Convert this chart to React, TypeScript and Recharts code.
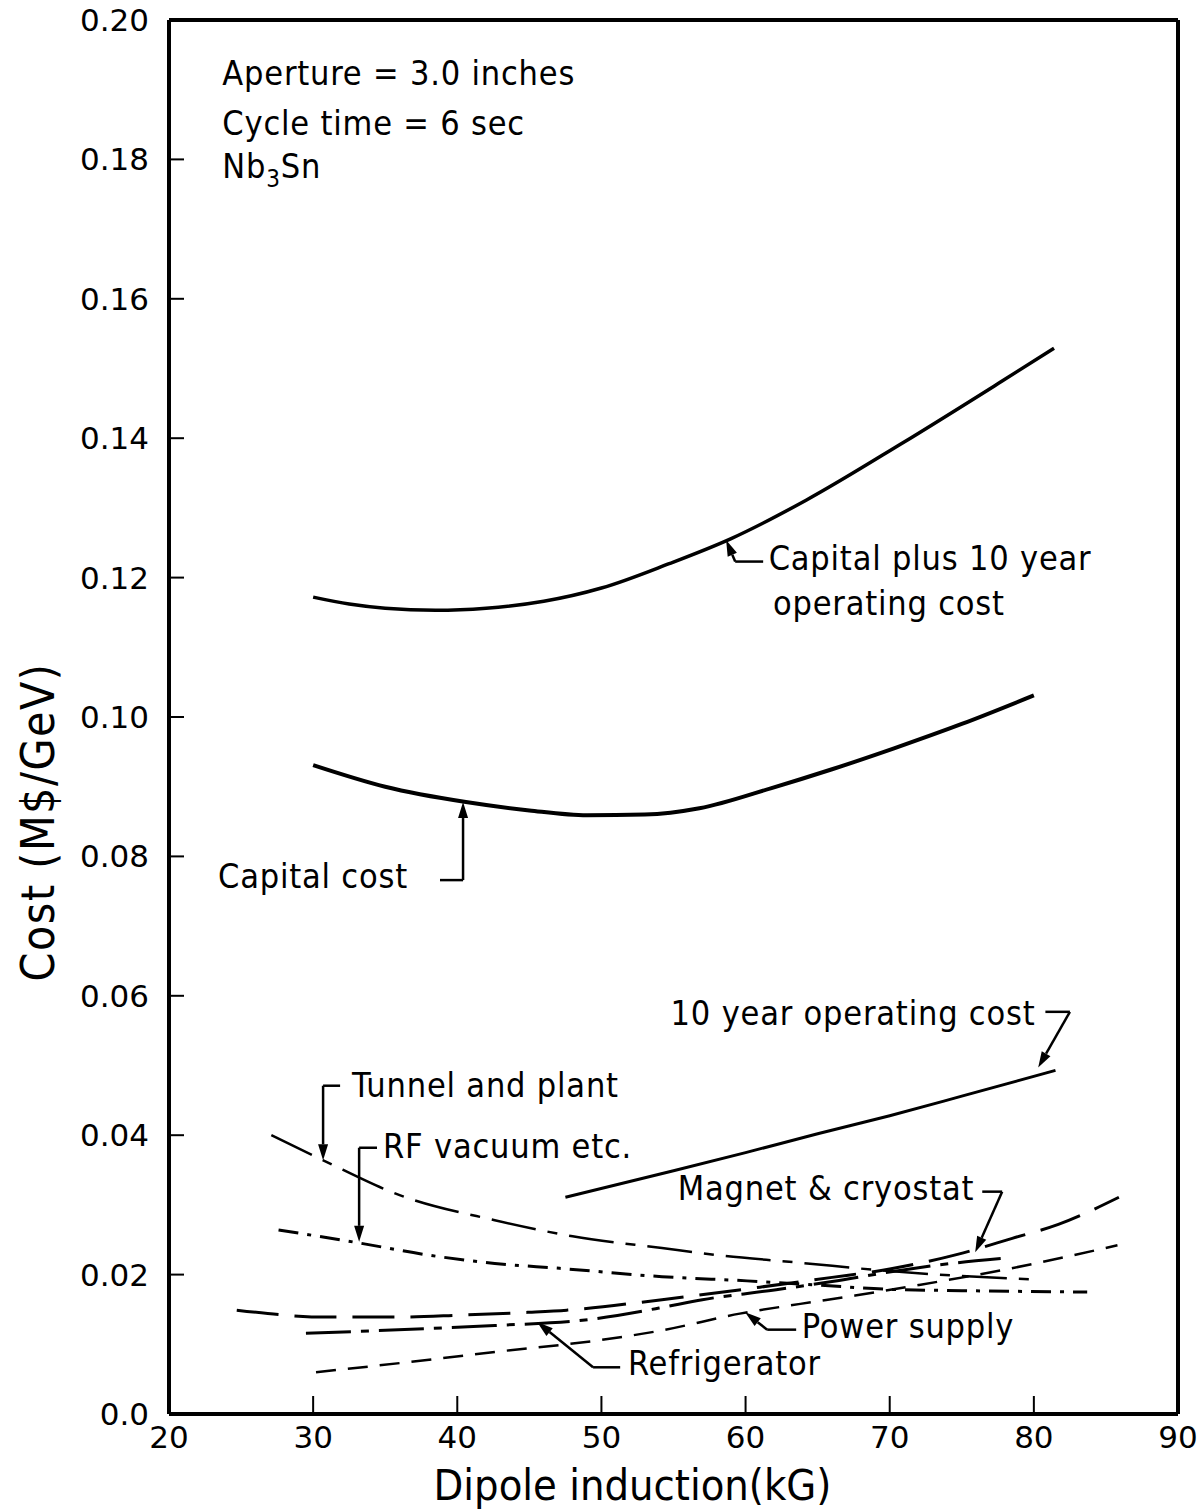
import { LineChart, Line, XAxis, YAxis, ReferenceLine, ReferenceDot } from 'recharts'

type Pt = { x: number; y: number }

const xTicks = [20, 30, 40, 50, 60, 70, 80, 90]
const yTicks = [0, 0.02, 0.04, 0.06, 0.08, 0.1, 0.12, 0.14, 0.16, 0.18, 0.2]

// Capital plus 10 year operating cost
const capitalPlusOp: Pt[] = [
  { x: 30, y: 0.1172 }, { x: 32.5, y: 0.1162 }, { x: 35, y: 0.1156 }, { x: 38.5, y: 0.1153 },
  { x: 42, y: 0.1156 }, { x: 46, y: 0.1166 }, { x: 50, y: 0.1185 }, { x: 54.7, y: 0.122 },
  { x: 59, y: 0.1256 }, { x: 64.2, y: 0.1311 }, { x: 70.8, y: 0.1392 }, { x: 77.8, y: 0.1482 },
  { x: 81.4, y: 0.1529 },
]

const capitalCost: Pt[] = [
  { x: 30, y: 0.0931 }, { x: 35, y: 0.09 }, { x: 40.6, y: 0.0878 }, { x: 45, y: 0.0866 },
  { x: 49, y: 0.0859 }, { x: 53, y: 0.086 }, { x: 56.8, y: 0.0869 }, { x: 61.8, y: 0.0898 },
  { x: 66, y: 0.0925 }, { x: 70.3, y: 0.0955 }, { x: 75, y: 0.099 }, { x: 80, y: 0.1031 },
]

const operatingCost: Pt[] = [
  { x: 47.5, y: 0.0311 }, { x: 55, y: 0.0349 }, { x: 60, y: 0.0375 }, { x: 65, y: 0.0402 },
  { x: 70, y: 0.0428 }, { x: 75, y: 0.0456 }, { x: 81.5, y: 0.0493 },
]

const tunnelPlant: Pt[] = [
  { x: 27.1, y: 0.04 }, { x: 30.7, y: 0.0364 }, { x: 36, y: 0.0314 }, { x: 42.6, y: 0.0278 },
  { x: 48, y: 0.0255 }, { x: 54.2, y: 0.0238 }, { x: 58, y: 0.0228 }, { x: 63.8, y: 0.0217 },
  { x: 70, y: 0.0205 }, { x: 75, y: 0.0198 }, { x: 80, y: 0.0193 },
]

const rfVacuum: Pt[] = [
  { x: 27.6, y: 0.0264 }, { x: 33.3, y: 0.0245 }, { x: 38, y: 0.0228 }, { x: 42.6, y: 0.0216 },
  { x: 47.1, y: 0.0209 }, { x: 54.2, y: 0.0197 }, { x: 60.1, y: 0.0191 }, { x: 65, y: 0.0185 },
  { x: 69.8, y: 0.0179 }, { x: 75, y: 0.0177 }, { x: 83.7, y: 0.0175 },
]

const magnetCryostat: Pt[] = [
  { x: 24.7, y: 0.0149 }, { x: 31, y: 0.0139 }, { x: 36, y: 0.0139 }, { x: 40.3, y: 0.0142 },
  { x: 45, y: 0.0146 }, { x: 47.6, y: 0.0149 }, { x: 54.2, y: 0.0164 }, { x: 61, y: 0.0182 },
  { x: 66, y: 0.0196 }, { x: 70, y: 0.0208 }, { x: 74.7, y: 0.0229 }, { x: 78.5, y: 0.0252 },
  { x: 81.7, y: 0.0272 }, { x: 85.9, y: 0.0311 },
]

const refrigerator: Pt[] = [
  { x: 29.5, y: 0.0116 }, { x: 35, y: 0.012 }, { x: 42.6, y: 0.0127 }, { x: 48.5, y: 0.0134 },
  { x: 54, y: 0.0152 }, { x: 57, y: 0.0164 }, { x: 62, y: 0.0178 }, { x: 66, y: 0.019 },
  { x: 70.7, y: 0.0206 }, { x: 74.7, y: 0.0217 }, { x: 77.7, y: 0.0223 },
]

const powerSupply: Pt[] = [
  { x: 30.2, y: 0.006 }, { x: 36, y: 0.0073 }, { x: 42.6, y: 0.0089 }, { x: 49.9, y: 0.0106 },
  { x: 54.2, y: 0.012 }, { x: 59.6, y: 0.0144 }, { x: 63.8, y: 0.0158 }, { x: 67.6, y: 0.017 },
  { x: 72, y: 0.0185 }, { x: 77.7, y: 0.0206 }, { x: 85.8, y: 0.0242 },
]

// text labels placed in data coordinates (left / baseline)
const notes = [
  { x: 23.7, y: 0.1907, text: 'Aperture = 3.0 inches' },
  { x: 23.7, y: 0.1835, text: 'Cycle time = 6 sec' },
  { x: 61.6, y: 0.1211, text: 'Capital  plus 10 year' },
  { x: 61.9, y: 0.1147, text: 'operating cost' },
  { x: 23.4, y: 0.0755, text: 'Capital cost' },
  { x: 54.8, y: 0.0558, text: '10 year operating cost' },
  { x: 32.7, y: 0.0455, text: 'Tunnel and plant' },
  { x: 34.85, y: 0.0367, text: 'RF vacuum etc.' },
  { x: 55.3, y: 0.0307, text: 'Magnet & cryostat' },
  { x: 63.9, y: 0.0109, text: 'Power supply' },
  { x: 51.85, y: 0.0056, text: 'Refrigerator' },
]

// leader lines, the last segment carries the arrow head
const leaders: [number, number][][] = [
  [[61.22, 0.1223], [59.28, 0.1223], [58.65, 0.1254]],
  [[38.8, 0.0766], [40.4, 0.0766], [40.4, 0.0878]],
  [[80.8, 0.0577], [82.5, 0.0577], [80.3, 0.0497]],
  [[31.87, 0.0471], [30.69, 0.0471], [30.69, 0.0364]],
  [[34.43, 0.0382], [33.19, 0.0382], [33.19, 0.0247]],
  [[76.42, 0.0319], [77.8, 0.0319], [75.93, 0.0232]],
  [[63.51, 0.0121], [61.5, 0.0121], [59.97, 0.0146]],
  [[51.3, 0.0067], [49.42, 0.0067], [45.54, 0.0132]],
]

const labelFont = "'DejaVu Sans Condensed', 'DejaVu Sans', sans-serif"
const tickFont = "'DejaVu Sans', 'Noto Sans', sans-serif"

const fmtY = (v: number) => (v === 0 ? '0.0' : v.toFixed(2))

const plainSeg = (p: any) => (
  <line x1={p.x1} y1={p.y1} x2={p.x2} y2={p.y2} stroke="#000" strokeWidth={2.5} />
)

const arrowSeg = (p: any) => {
  const { x1, y1, x2, y2 } = p
  const ang = Math.atan2(y2 - y1, x2 - x1)
  const len = 16
  const w = 5
  const bx = x2 - len * Math.cos(ang)
  const by = y2 - len * Math.sin(ang)
  const ox = -Math.sin(ang) * w
  const oy = Math.cos(ang) * w
  return (
    <g>
      <line x1={x1} y1={y1} x2={bx} y2={by} stroke="#000" strokeWidth={2.5} />
      <polygon points={`${x2},${y2} ${bx + ox},${by + oy} ${bx - ox},${by - oy}`} fill="#000" />
    </g>
  )
}

const noteText = (text: string) => (p: any) => (
  <text x={p.cx} y={p.cy} fontFamily={labelFont} fontSize={34} letterSpacing={0.8} fill="#000">
    {text}
  </text>
)

const nbText = (p: any) => (
  <text x={p.cx} y={p.cy} fontFamily={labelFont} fontSize={34} letterSpacing={0.8} fill="#000">
    Nb<tspan fontSize={24} dy={9}>3</tspan>
    <tspan dy={-9}>Sn</tspan>
  </text>
)

const yTitle = (p: any) => {
  const vb = p.viewBox
  const cx = vb.x + 38
  const cy = vb.y + vb.height / 2 + 105
  return (
    <text x={cx} y={cy} transform={`rotate(-90 ${cx} ${cy})`} textAnchor="middle" dominantBaseline="central"
      fontFamily={labelFont} fontSize={46} letterSpacing={1.5} fill="#000">
      Cost  (M$/GeV)
    </text>
  )
}

const xTitle = (p: any) => {
  const vb = p.viewBox
  return (
    <text x={vb.x + vb.width / 2 - 41} y={1500} textAnchor="middle" fontFamily={labelFont} fontSize={43} fill="#000">
      Dipole induction(kG)
    </text>
  )
}

const App = () => {
  return (
    <div style={{ position: 'absolute', left: 0, top: 0, background: '#fff' }}>
      <LineChart width={1198} height={1512} margin={{ top: 0, right: 0, bottom: 0, left: 0 }}>
        <XAxis
          type="number"
          dataKey="x"
          domain={[20, 90]}
          ticks={xTicks}
          allowDataOverflow
          height={98}
          axisLine={{ stroke: '#000', strokeWidth: 4 }}
          tickLine={{ stroke: '#000', strokeWidth: 2 }}
          tickSize={-18}
          tickMargin={30}
          tick={{ fill: '#000', fontSize: 31, fontFamily: tickFont }}
          label={{ content: xTitle }}
        />
        <XAxis
          xAxisId="t"
          orientation="top"
          type="number"
          dataKey="x"
          domain={[20, 90]}
          ticks={xTicks}
          height={20}
          axisLine={{ stroke: '#000', strokeWidth: 4 }}
          tickLine={{ stroke: '#000', strokeWidth: 2 }}
          tickSize={-15}
          tick={false}
        />
        <YAxis
          type="number"
          domain={[0, 0.2]}
          ticks={yTicks}
          width={169}
          axisLine={{ stroke: '#000', strokeWidth: 4 }}
          tickLine={{ stroke: '#000', strokeWidth: 2 }}
          tickSize={-15}
          tickMargin={35}
          tickFormatter={fmtY}
          tick={{ fill: '#000', fontSize: 31, fontFamily: tickFont }}
          label={{ content: yTitle }}
        />
        <YAxis
          yAxisId="r"
          orientation="right"
          type="number"
          domain={[0, 0.2]}
          ticks={yTicks}
          width={20}
          axisLine={{ stroke: '#000', strokeWidth: 4 }}
          tickLine={{ stroke: '#000', strokeWidth: 2 }}
          tickSize={-15}
          tick={false}
        />

        <Line data={capitalPlusOp} dataKey="y" type="monotone" stroke="#000" strokeWidth={3.5} dot={false} isAnimationActive={false} />
        <Line data={capitalCost} dataKey="y" type="monotone" stroke="#000" strokeWidth={4} dot={false} isAnimationActive={false} />
        <Line data={operatingCost} dataKey="y" type="monotone" stroke="#000" strokeWidth={3} dot={false} isAnimationActive={false} />
        <Line data={tunnelPlant} dataKey="y" type="monotone" stroke="#000" strokeWidth={2.5} strokeDasharray="45 12 10 12" dot={false} isAnimationActive={false} />
        <Line data={rfVacuum} dataKey="y" type="monotone" stroke="#000" strokeWidth={3} strokeDasharray="20 9 4 9" dot={false} isAnimationActive={false} />
        <Line data={magnetCryostat} dataKey="y" type="monotone" stroke="#000" strokeWidth={3} strokeDasharray="42 16" dot={false} isAnimationActive={false} />
        <Line data={refrigerator} dataKey="y" type="monotone" stroke="#000" strokeWidth={3} strokeDasharray="45 10 8 10" dot={false} isAnimationActive={false} />
        <Line data={powerSupply} dataKey="y" type="monotone" stroke="#000" strokeWidth={2.5} strokeDasharray="20 12" dot={false} isAnimationActive={false} />

        {leaders.map((pts, i) =>
          pts.slice(1).map((pt, j) => (
            <ReferenceLine
              key={`ld-${i}-${j}`}
              segment={[{ x: pts[j][0], y: pts[j][1] }, { x: pt[0], y: pt[1] }]}
              ifOverflow="visible"
              shape={j === pts.length - 2 ? arrowSeg : plainSeg}
            />
          ))
        )}

        {notes.map((n) => (
          <ReferenceDot key={n.text} x={n.x} y={n.y} r={0} ifOverflow="visible" shape={noteText(n.text)} />
        ))}
        <ReferenceDot x={23.7} y={0.1774} r={0} ifOverflow="visible" shape={nbText} />
      </LineChart>
    </div>
  )
}

export default App
